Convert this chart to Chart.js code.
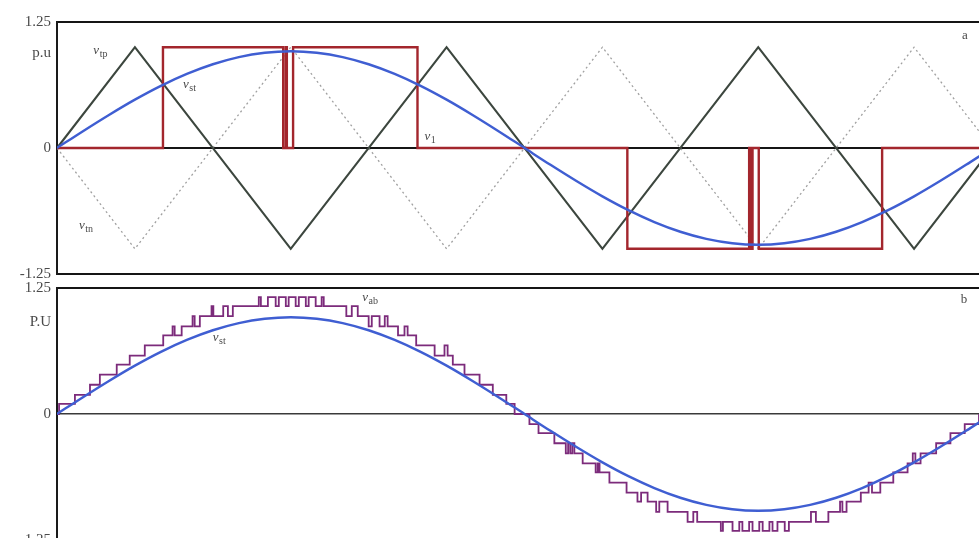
<!DOCTYPE html>
<html>
<head>
<meta charset="utf-8">
<script src="https://cdn.jsdelivr.net/npm/chart.js@4/dist/chart.umd.min.js"></script>
<style>
  html, body { margin: 0; padding: 0; background: #fff; }
  body { width: 979px; height: 538px; overflow: hidden; position: relative; }
  canvas { position: absolute; left: 0; }
  #panelA { top: 0; }
  #panelB { top: 276px; }
</style>
</head>
<body>
<canvas id="panelA" width="979" height="286"></canvas>
<canvas id="panelB" width="979" height="276"></canvas>
<script>
// ---- angle grid for the reference wave (degrees over one fundamental period)
const refDeg = [0, 10, 20, 30, 40, 50, 60, 70, 80, 90, 100, 110, 120, 130, 140, 150, 160, 170, 180,
                190, 200, 210, 220, 230, 240, 250, 260, 270, 280, 290, 300, 310, 320, 330, 340, 350, 360];
// reference (modulating) wave v_st, p.u.
const refWave = [0, 0.167, 0.328, 0.48, 0.617, 0.735, 0.831, 0.902, 0.945, 0.96, 0.945, 0.902, 0.831, 0.735,
                 0.617, 0.48, 0.328, 0.167, 0, -0.167, -0.328, -0.48, -0.617, -0.735, -0.831, -0.902, -0.945,
                 -0.96, -0.945, -0.902, -0.831, -0.735, -0.617, -0.48, -0.328, -0.167, 0];

// triangular carriers: corner angles and values
const carrierDeg = [0, 30, 90, 150, 210, 270, 330, 360];
const carrierTp  = [0, 1, -1, 1, -1, 1, -1, 0];
const carrierTn  = [0, -1, 1, -1, 1, -1, 1, 0];

// switched output v_1: switching angles and the level taken at each
const pwmDeg = [0, 40.8, 87.1, 88.1, 88.5, 90.9, 138.8, 219.6, 266.5, 267.4, 267.8, 270.2, 317.7, 360];
const pwmVal = [0, 1, 0, 1, 0, 1, 0, -1, 0, -1, 0, -1, 0, 0];

// multilevel output v_ab: level heights (p.u.), switching angles and level index taken
const stepLevels = [0, 0.10, 0.19, 0.29, 0.39, 0.49, 0.58, 0.68, 0.78, 0.87, 0.97, 1.07, 1.16];
const stepDeg = [0, 0.8, 6.9, 12.7, 16.5, 23.0, 28.0, 33.8, 40.9, 44.5, 45.3, 48.0, 52.2, 53.0, 55.0,
  59.5, 60.2, 64.0, 65.8, 67.7, 77.7, 78.5, 81.2, 84.2, 85.4, 88.1, 89.2, 91.9, 93.1, 95.8, 96.9, 99.6,
  101.9, 102.7, 111.4, 113.5, 115.8, 120.0, 121.2, 124.2, 126.2, 127.3, 131.3, 133.8, 135.0, 138.3,
  145.4, 149.2, 150.4, 152.4, 156.9, 162.7, 167.8, 173.0, 176.2,
  181.9, 185.4, 191.5, 195.9, 196.8, 197.6, 198.4, 199.2, 202.4, 207.4, 208.2, 208.9, 212.7, 219.3,
  223.5, 224.9, 227.4, 230.7, 231.9, 235.1, 242.8, 245.0, 246.5, 255.6, 256.4, 260.1, 262.7, 263.9,
  266.5, 267.8, 270.4, 271.7, 274.3, 275.5, 277.4, 280.2, 281.8, 290.3, 292.2, 297.0, 301.5, 302.4,
  304.0, 309.5, 312.5, 313.8, 317.0, 322.0, 327.5, 329.5, 330.5, 332.5, 338.5, 344.0, 349.5, 355.0, 360.0];
const stepLevel = [0, 1, 2, 3, 4, 5, 6, 7, 8, 9, 8, 9, 10, 9, 10,
  11, 10, 11, 10, 11, 12, 11, 12, 11, 12, 11, 12, 11, 12, 11, 12, 11,
  12, 11, 10, 11, 10, 9, 10, 9, 10, 9, 8, 9, 8, 7,
  6, 7, 6, 5, 4, 3, 2, 1, 0,
  -1, -2, -3, -4, -3, -4, -3, -4, -5, -6, -5, -6, -7, -8,
  -9, -8, -9, -10, -9, -10, -11, -10, -11, -12, -11, -12, -11, -12,
  -11, -12, -11, -12, -11, -12, -11, -12, -11, -10, -11, -10, -9, -10,
  -9, -8, -7, -8, -7, -6, -5, -4, -5, -4, -3, -2, -1, 0, 0];

// y-axis tick values and their texts
const tickValsA  = [1.25, 0.94, 0, -1.25];
const tickTextA  = ['1.25', 'p.u', '0', '-1.25'];
const tickValsB  = [1.25, 0.91, 0, -1.25];
const tickTextB  = ['1.25', 'P.U', '0', '-1.25'];

const pts = (xs, ys) => xs.map((x, i) => ({ x, y: ys[i] }));
const stepPts = stepDeg.map((x, i) => {
  const k = stepLevel[i];
  return { x, y: Math.sign(k) * stepLevels[Math.abs(k)] };
});

// small text labels with subscripts, placed in data coordinates
const notes = {
  id: 'notes',
  afterDatasetsDraw(chart, args, opts) {
    const { ctx, scales: { x, y } } = chart;
    ctx.save();
    ctx.fillStyle = '#4a4a4a';
    ctx.textBaseline = 'alphabetic';
    ctx.textAlign = 'left';
    for (const n of opts.items) {
      const px = x.getPixelForValue(n.x);
      const py = y.getPixelForValue(n.y);
      ctx.font = (n.sub ? 'italic ' : '') + '13px "Liberation Serif", serif';
      ctx.fillText(n.main, px, py);
      if (n.sub) {
        const w = ctx.measureText(n.main).width;
        ctx.font = '10px "Liberation Serif", serif';
        ctx.fillText(n.sub, px + w + 0.5, py + 3);
      }
    }
    ctx.restore();
  }
};

function yAxis(vals, texts, zeroColor, zeroWidth) {
  return {
    type: 'linear', min: -1.25, max: 1.25,
    afterBuildTicks: s => { s.ticks = vals.map(v => ({ value: v })); },
    afterFit: s => { s.width = 57; },
    ticks: {
      autoSkip: false, padding: 6, color: '#4a4a4a',
      font: { family: '"Liberation Serif", serif', size: 15, lineHeight: 0.7 },
      callback: (v, i) => texts[i]
    },
    grid: {
      drawTicks: false,
      color: c => {
        if (!c.tick) return 'rgba(0,0,0,0)';
        if (c.tick.value === 0) return zeroColor;
        return Math.abs(c.tick.value) === 1.25 ? '#151515' : 'rgba(0,0,0,0)';
      },
      lineWidth: c => (c.tick && c.tick.value === 0) ? zeroWidth : 2
    },
    border: { display: true, color: '#1a1a1a', width: 2 }
  };
}

const xAxis = { type: 'linear', min: 0, max: 355, display: false };

const common = {
  responsive: false, animation: false, devicePixelRatio: 1, events: [],
  elements: { point: { radius: 0 } },
  plugins: { legend: { display: false }, tooltip: { enabled: false } }
};

// panel a: carriers, reference and two-level switched output
new Chart(document.getElementById('panelA'), {
  type: 'line',
  data: {
    datasets: [
      { label: 'v_st', data: pts(refDeg, refWave), borderColor: '#3f5ed2', borderWidth: 2.4,
        cubicInterpolationMode: 'monotone' },
      { label: 'v_1', data: pts(pwmDeg, pwmVal), borderColor: '#a3262d', borderWidth: 2.4,
        stepped: 'before' },
      { label: 'v_tp', data: pts(carrierDeg, carrierTp), borderColor: '#3c463e', borderWidth: 2.2 },
      { label: 'v_tn', data: pts(carrierDeg, carrierTn), borderColor: '#a0a0a0', borderWidth: 1.3,
        borderDash: [2, 3] }
    ]
  },
  options: {
    ...common,
    layout: { padding: { top: 22, bottom: 12, left: 0, right: 0 } },
    scales: { x: xAxis, y: yAxis(tickValsA, tickTextA, '#151515', 2) },
    plugins: {
      ...common.plugins,
      notes: { items: [
        { x: 14, y: 0.93, main: 'v', sub: 'tp' },
        { x: 48.5, y: 0.6, main: 'v', sub: 'st' },
        { x: 8.5, y: -0.8, main: 'v', sub: 'tn' },
        { x: 141.5, y: 0.08, main: 'v', sub: '1' },
        { x: 348.5, y: 1.08, main: 'a' }
      ] }
    }
  },
  plugins: [notes]
});

// panel b: multilevel output and reference
new Chart(document.getElementById('panelB'), {
  type: 'line',
  data: {
    datasets: [
      { label: 'v_st', data: pts(refDeg, refWave), borderColor: '#3f5ed2', borderWidth: 2.4,
        cubicInterpolationMode: 'monotone' },
      { label: 'v_ab', data: stepPts, borderColor: '#7c2b7b', borderWidth: 1.8, stepped: 'before' }
    ]
  },
  options: {
    ...common,
    layout: { padding: { top: 12, bottom: 12, left: 0, right: 0 } },
    scales: { x: xAxis, y: yAxis(tickValsB, tickTextB, '#3a3a3a', 1.5) },
    plugins: {
      ...common.plugins,
      notes: { items: [
        { x: 117.5, y: 1.12, main: 'v', sub: 'ab' },
        { x: 60, y: 0.72, main: 'v', sub: 'st' },
        { x: 348, y: 1.1, main: 'b' }
      ] }
    }
  },
  plugins: [notes]
});
</script>
</body>
</html>
